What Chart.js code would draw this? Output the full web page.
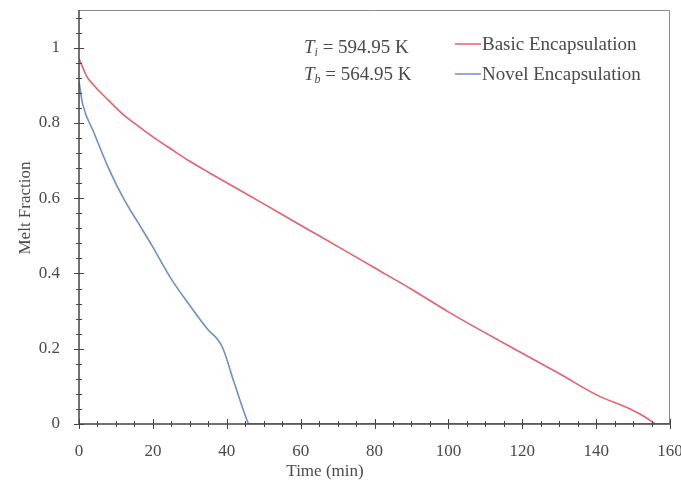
<!DOCTYPE html>
<html>
<head>
<meta charset="utf-8">
<script src="https://cdn.jsdelivr.net/npm/chart.js@4/dist/chart.umd.min.js"></script>
<style>
  html, body { margin: 0; padding: 0; background: #fff; }
  #wrap { width: 681px; height: 485px; position: relative; }
</style>
</head>
<body>
<div id="wrap"><canvas id="c" width="681" height="485"></canvas></div>
<script>
  "use strict";

  // 読み取り値
  var timeBasic = [0, 0.7, 2, 4, 8, 12, 16, 20, 25, 30, 35, 40, 50, 60, 70, 80, 90, 100, 110, 120, 130, 140, 150, 153, 156];
  var meltBasic = [0.97, 0.955, 0.925, 0.9, 0.86, 0.822, 0.792, 0.763, 0.73, 0.698, 0.669, 0.641, 0.585, 0.528, 0.472, 0.415, 0.358, 0.298, 0.242, 0.188, 0.134, 0.078, 0.036, 0.02, 0];
  var timeNovel = [0, 1, 4, 8, 12, 16, 20, 25, 30, 35, 37.5, 39, 42, 45.5, 46, 160];
  var meltNovel = [0.91, 0.85, 0.775, 0.68, 0.6, 0.535, 0.47, 0.385, 0.315, 0.25, 0.225, 0.2, 0.11, 0.01, 0, 0];
  var seriesLabels = ['Basic Encapsulation', 'Novel Encapsulation'];
  var seriesColors = ['#e8606e', '#6f8fc9'];
  var xTitle = 'Time (min)';
  var yTitle = 'Melt Fraction';
  var noteLines = [['T', 'i', ' = 594.95 K'], ['T', 'b', ' = 564.95 K']];

  var FONT = '"Liberation Serif", "Times New Roman", serif';
  var TXT = '#4a4a4a';

  function pts(xs, ys) {
    return xs.map(function(x, i) { return { x: x, y: ys[i] }; });
  }

  function isMajor(v, step) {
    var r = v / step;
    return Math.abs(r - Math.round(r)) < 1e-6;
  }

  /** 枠・目盛・凡例・注記 */
  var decor = {
    id: 'decor',
    afterDraw: function(ch) {
      var ctx = ch.ctx;
      var a = ch.chartArea;
      var xs = ch.scales.x, ys = ch.scales.y;
      ctx.save();
      // 枠
      ctx.strokeStyle = '#8a8a8a';
      ctx.lineWidth = 1;
      ctx.beginPath();
      ctx.moveTo(a.left, a.top + 0.5);
      ctx.lineTo(a.right - 0.5, a.top + 0.5);
      ctx.lineTo(a.right - 0.5, a.bottom);
      ctx.stroke();
      // 軸
      ctx.strokeStyle = '#444';
      ctx.lineWidth = 1.5;
      ctx.beginPath();
      ctx.moveTo(a.left, a.top);
      ctx.lineTo(a.left, a.bottom);
      ctx.lineTo(a.right, a.bottom);
      ctx.stroke();
      // 目盛
      ctx.lineWidth = 1;
      xs.ticks.forEach(function(t) {
        var px = Math.round(xs.getPixelForValue(t.value)) + 0.5;
        var len = isMajor(t.value, 20) ? 5 : 3;
        ctx.beginPath();
        ctx.moveTo(px, a.bottom - len);
        ctx.lineTo(px, a.bottom + len);
        ctx.stroke();
      });
      ys.ticks.forEach(function(t) {
        var py = Math.round(ys.getPixelForValue(t.value)) + 0.5;
        var len = isMajor(t.value, 0.2) ? 5 : 3;
        ctx.beginPath();
        ctx.moveTo(a.left - len, py);
        ctx.lineTo(a.left + len, py);
        ctx.stroke();
      });
      // 軸タイトル
      ctx.fillStyle = TXT;
      ctx.font = '17px ' + FONT;
      ctx.textAlign = 'center';
      ctx.textBaseline = 'middle';
      ctx.fillText(xTitle, 325, 472);
      ctx.save();
      ctx.translate(26, 208);
      ctx.rotate(-Math.PI / 2);
      ctx.fillText(yTitle, 0, 0);
      ctx.restore();
      // 凡例
      ctx.textAlign = 'left';
      ctx.font = '19px ' + FONT;
      ch.data.datasets.forEach(function(ds, i) {
        var y = 44 + i * 30;
        ctx.strokeStyle = ds.borderColor;
        ctx.lineWidth = 1.5;
        ctx.beginPath();
        ctx.moveTo(455, y);
        ctx.lineTo(481, y);
        ctx.stroke();
        ctx.fillStyle = TXT;
        ctx.fillText(ds.label, 482, y + 1);
      });
      // 注記
      noteLines.forEach(function(n, i) {
        var y = 48 + i * 27;
        var x = 304;
        ctx.font = 'italic 19px ' + FONT;
        ctx.fillText(n[0], x, y);
        x += ctx.measureText(n[0]).width;
        ctx.font = 'italic 12px ' + FONT;
        ctx.fillText(n[1], x, y + 5);
        x += ctx.measureText(n[1]).width;
        ctx.font = '19px ' + FONT;
        ctx.fillText(n[2], x, y);
      });
      ctx.restore();
    }
  };

  new Chart(document.getElementById('c'), {
    type: 'line',
    data: {
      datasets: [
        { label: seriesLabels[0], data: pts(timeBasic, meltBasic), borderColor: seriesColors[0] },
        { label: seriesLabels[1], data: pts(timeNovel, meltNovel), borderColor: seriesColors[1] }
      ]
    },
    options: {
      responsive: false,
      animation: false,
      layout: { padding: { top: 10, right: 11, left: 0, bottom: 0 } },
      elements: {
        point: { radius: 0 },
        line: { borderWidth: 1.6, cubicInterpolationMode: 'monotone', fill: false }
      },
      plugins: { legend: { display: false }, tooltip: { enabled: false } },
      scales: {
        x: {
          type: 'linear',
          min: 0, max: 160,
          border: { display: false },
          grid: { display: false, drawTicks: false },
          afterFit: function(s) {
            s.height = 61;
            s.paddingLeft = 0;
            s.paddingRight = 0;
          },
          afterBuildTicks: function(s) {
            var t = [];
            for (var v = 0; v <= 160; v += 5) t.push({ value: v });
            s.ticks = t;
          },
          ticks: {
            autoSkip: false,
            maxRotation: 0,
            padding: 17,
            color: TXT,
            font: { family: FONT, size: 17 },
            callback: function(v) { return isMajor(v, 20) ? String(v) : ''; }
          }
        },
        y: {
          min: 0, max: 1.1,
          border: { display: false },
          grid: { display: false, drawTicks: false },
          afterFit: function(s) {
            s.width = 79;
            s.paddingTop = 0;
            s.paddingBottom = 0;
          },
          afterBuildTicks: function(s) {
            var t = [];
            for (var i = 0; i <= 27; i++) t.push({ value: Math.round(i * 0.04 * 100) / 100 });
            s.ticks = t;
          },
          ticks: {
            autoSkip: false,
            padding: 19,
            color: TXT,
            font: { family: FONT, size: 17 },
            callback: function(v) { return isMajor(v, 0.2) ? String(Math.round(v * 10) / 10) : ''; }
          }
        }
      }
    },
    plugins: [decor]
  });
</script>
</body>
</html>
